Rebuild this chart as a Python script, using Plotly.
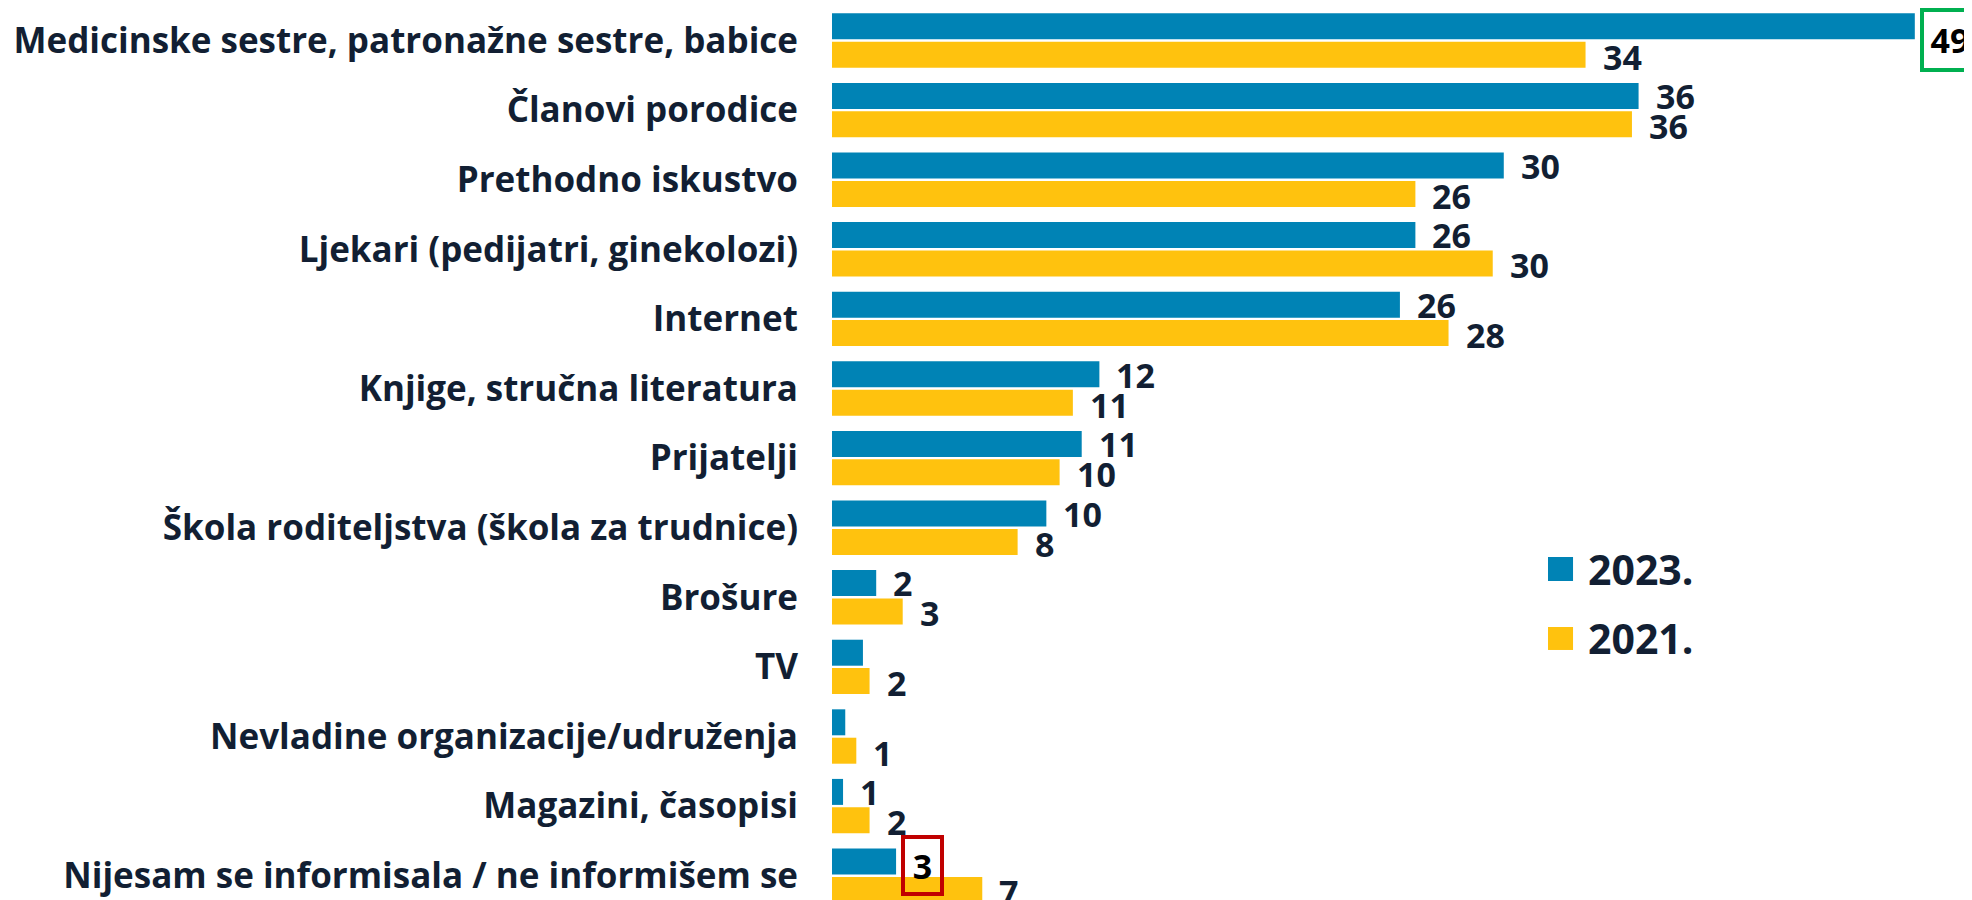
import plotly.graph_objects as go

categories = [
    "Medicinske sestre, patronažne sestre, babice",
    "Članovi porodice",
    "Prethodno iskustvo",
    "Ljekari (pedijatri, ginekolozi)",
    "Internet",
    "Knjige, stručna literatura",
    "Prijatelji",
    "Škola roditeljstva (škola za trudnice)",
    "Brošure",
    "TV",
    "Nevladine organizacije/udruženja",
    "Magazini, časopisi",
    "Nijesam se informisala / ne informišem se",
]
values_2023 = [49.0, 36.5, 30.4, 26.4, 25.7, 12.1, 11.3, 9.7, 2.0, 1.4, 0.6, 0.5, 2.9]
values_2021 = [34.1, 36.2, 26.4, 29.9, 27.9, 10.9, 10.3, 8.4, 3.2, 1.7, 1.1, 1.7, 6.8]
labels_2023 = ["49", "36", "30", "26", "26", "12", "11", "10", "2", "", "", "1", "3"]
labels_2021 = ["34", "36", "26", "30", "28", "11", "10", "8", "3", "2", "1", "2", "7"]
series_names = ["2023.", "2021."]
highlight_2023 = {0: "#00B050", 12: "#C00000"}

BLUE = "#0083B5"
YELLOW = "#FFC20E"
TXT = "#121F33"
FONT = "Open Sans"

fig = go.Figure()
fig.add_trace(go.Bar(y=categories, x=values_2023, orientation="h", name=series_names[0],
                     marker=dict(color=BLUE, line=dict(width=0)), showlegend=False))
fig.add_trace(go.Bar(y=categories, x=values_2021, orientation="h", name=series_names[1],
                     marker=dict(color=YELLOW, line=dict(width=0)), showlegend=False))

annotations = []
for i, c in enumerate(categories):
    for vals, labs, ys, series in ((values_2023, labels_2023, 14, 0), (values_2021, labels_2021, -16, 1)):
        t = labs[i]
        if not t:
            continue
        hl = highlight_2023.get(i) if series == 0 else None
        a = dict(x=vals[i], y=c, text="<b>%s</b>" % t, showarrow=False,
                 xanchor="left", yanchor="middle", xshift=15, yshift=ys,
                 font=dict(family=FONT, size=34, color="black" if hl else TXT))
        if hl:
            a.update(bordercolor=hl, borderwidth=4, xshift=5)
            if i == 0:
                a.update(yshift=ys - 13, borderpad=5, width=42)
            else:
                a.update(yshift=ys - 4, borderpad=4, width=27, height=45)
        annotations.append(a)

# manual legend (large square swatches)
shapes = []
for k, (nm, col) in enumerate(zip(series_names, [BLUE, YELLOW])):
    y0 = [0.3633, 0.2867][k]
    y1 = [0.3900, 0.3122][k]
    shapes.append(dict(type="rect", xref="paper", yref="paper", x0=0.6237, x1=0.6455,
                       y0=y0, y1=y1, fillcolor=col, line=dict(width=0)))
    annotations.append(dict(xref="paper", yref="paper", x=0.6568, y=(y0 + y1) / 2,
                            text="<b>%s</b>" % nm, showarrow=False, xanchor="left",
                            yanchor="middle", font=dict(family=FONT, size=41, color=TXT)))

fig.update_layout(
    width=1972, height=900,
    margin=dict(l=824, r=0, t=0, b=0),
    paper_bgcolor="white", plot_bgcolor="white",
    barmode="group", bargap=0.184, bargroupgap=0.085,
    xaxis=dict(range=[0, 51.95], visible=False, fixedrange=True),
    yaxis=dict(categoryorder="array", categoryarray=categories,
               range=[12.464, -0.467], showgrid=False, zeroline=False,
               showline=False, ticks="", ticklabelstandoff=33,
               tickfont=dict(family=FONT, size=35, color=TXT, weight="bold")),
    font=dict(family=FONT, color=TXT),
    showlegend=False,
    shapes=shapes,
    annotations=annotations,
)
fig.write_html("out.html")
